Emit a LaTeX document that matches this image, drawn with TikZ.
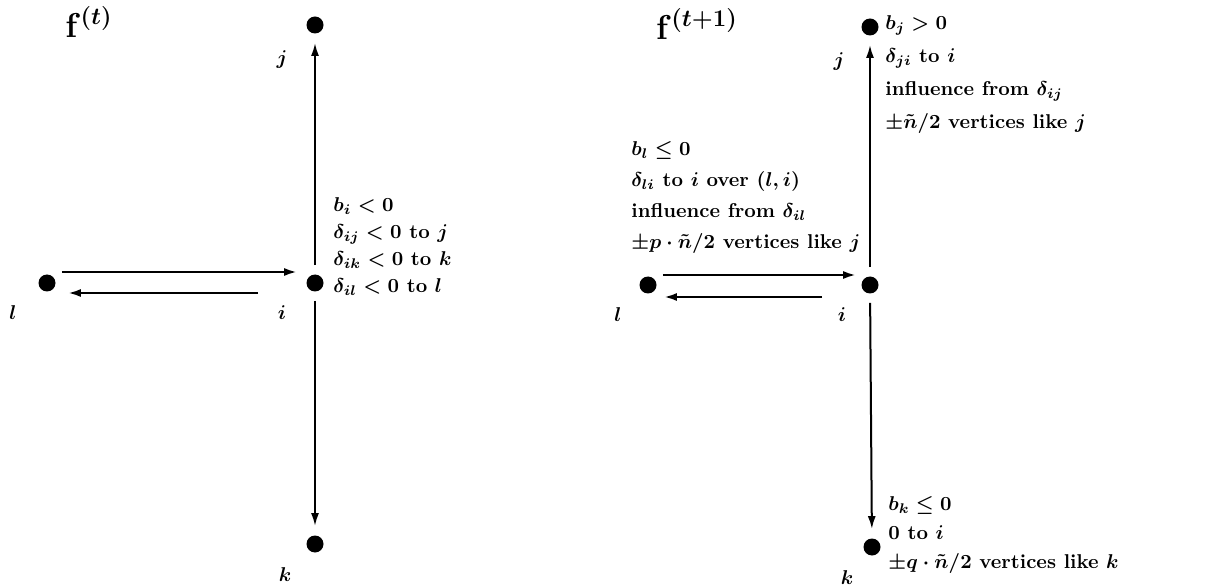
\documentclass[tikz,border=0pt]{standalone}
\usepackage{amsmath}
\usepackage{amssymb}
\usepackage{tikz}
\usetikzlibrary{arrows.meta, positioning}

\tikzset{
  vertex/.style={circle, fill, inner sep=0pt, minimum size=8.5pt},
  vlabel/.style={font=\bfseries\boldmath, inner sep=0pt},
  title/.style={font=\boldmath\fontsize{18}{20}\selectfont},
  note/.style={align=left, anchor=north west, inner sep=0pt,
    font=\bfseries\boldmath\fontsize{10}{#1}\selectfont},
  edge/.style={line width=1pt, -{Latex[length=6.5pt,width=4pt]},
    shorten <=4.5pt, shorten >=4.5pt},
}

\begin{document}
\begin{tikzpicture}[x=0.5pt, y=-0.5pt]
\useasboundingbox (0,0) rectangle (1226,588);
% left picture: f^(t)
\node[title] (ft) at (89,22) {$\mathbf{f}^{(t)}$};
\node[vertex] (j) at (315,25) {};
\node[vertex] (i) at (315,283) {};
\node[vertex] (l) at (47,283) {};
\node[vertex] (k) at (315,544) {};
\node[vlabel] (jlab) at (282,60) {$j$};
\node[vlabel] (llab) at (13,313) {$l$};
\node[vlabel] (ilab) at (282,313) {$i$};
\node[vlabel] (klab) at (285,575) {$k$};
\draw[edge] (i) -- (j);
\draw[edge] (i) -- (k);
\draw[edge, line width=1.2pt, shorten <=3pt] ([yshift=5.5pt]l.east) -- ([yshift=5.5pt]i.west);
\coordinate (iback) at ([xshift=-24pt, yshift=-5pt]i.west);
\draw[edge, line width=1.2pt, shorten <=0pt, shorten >=6pt] (iback) -- (iback -| l.east);
\node[note=13.5pt] (inote) at (333,197) {$b_i<0$\\ $\delta_{ij}<0$ to $j$\\ $\delta_{ik}<0$ to $k$\\ $\delta_{il}<0$ to $l$};

% right picture: f^(t+1)
\begin{scope}
\node[title] (ftt) at (697,24) {$\mathbf{f}^{(t+1)}$};
\node[vertex] (j2) at (870,27) {};
\node[vertex] (i2) at (870,285) {};
\node[vertex] (l2) at (648,285) {};
\node[vertex] (k2) at (872,547) {};
\node[vlabel] (jlab2) at (839,62) {$j$};
\node[vlabel] (llab2) at (618,315) {$l$};
\node[vlabel] (ilab2) at (842,315) {$i$};
\node[vlabel] (klab2) at (847,578) {$k$};
\draw[edge] (i2) -- (j2);
\draw[edge] (i2) -- (k2);
\draw[edge, line width=1.2pt, shorten <=3pt, shorten >=2.5pt] ([yshift=5pt]l2.east) -- ([yshift=5pt]i2.west);
\coordinate (iback2) at ([xshift=-19.5pt, yshift=-6pt]i2.west);
\draw[edge, line width=1.2pt, shorten <=0pt, shorten >=3.5pt] (iback2) -- (iback2 -| l2.east);
\node[note=16.5pt] (jnote) at (885,15) {$b_j>0$\\ $\delta_{ji}$ to $i$\\ influence from $\delta_{ij}$\\ $\pm\tilde{n}/2$ vertices like $j$};
\node[note=15.5pt] (lnote) at (631,141) {$b_l\le0$\\ $\delta_{li}$ to $i$ over $(l,i)$\\ influence from $\delta_{il}$\\ $\pm p\cdot\tilde{n}/2$ vertices like $j$};
\node[note=14.5pt] (knote) at (888,496) {$b_k\le0$\\ 0 to $i$\\ $\pm q\cdot\tilde{n}/2$ vertices like $k$};
\end{scope}
\end{tikzpicture}
\end{document}
